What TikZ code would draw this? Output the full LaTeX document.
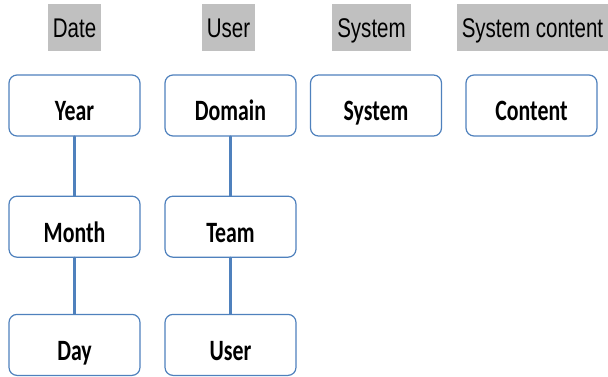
\documentclass[tikz,border=0pt]{standalone}
\usepackage{fontspec}
\usetikzlibrary{positioning}
\newfontfamily\headfont[FakeStretch=0.76]{Liberation Sans}
\newfontfamily\levelfont[FakeStretch=0.74]{Carlito}
\definecolor{levelblue}{RGB}{79,129,189}
\definecolor{headgray}{RGB}{192,192,192}
\begin{document}
\begin{tikzpicture}[x=1pt,y=-1pt, line join=round, line cap=round,
    level/.style={draw=levelblue, line width=1.2pt, rounded corners=8pt, fill=white,
        minimum width=131pt, minimum height=61pt, inner sep=0pt,
        text height=31pt, text depth=0pt,
        font=\levelfont\bfseries\fontsize{29.5}{32}\selectfont},
    head/.style={fill=headgray, minimum height=47pt, inner xsep=5pt, inner ysep=0pt,
        text height=19pt, text depth=0pt,
        font=\headfont\fontsize{27}{30}\selectfont},
    link/.style={draw=levelblue, line width=2.2pt}]
    \useasboundingbox (0,0) rectangle (608,377);
    \def\ya{105.5}
    % top row of levels
    \node[level] (year) at (74.5,\ya) {Year};
    \node[level] (domain) at (230.5,\ya) {Domain};
    \node[level] (system) at (376,\ya) {System};
    \node[level] (content) at (531.5,\ya) {Content};
    % lower levels
    \node[level, below=59pt of year] (month) {Month};
    \node[level, below=56pt of month] (day) {Day};
    \node[level, below=59pt of domain] (team) {Team};
    \node[level, below=56pt of team] (user) {User};
    % dimension names
    \node[head, above=23pt of year] (date-head) {Date};
    \node[head, above=23pt of domain, xshift=-2pt] (user-head) {User};
    \node[head, above=23pt of system, xshift=-4.5pt] (system-head) {System};
    \node[head, above=23pt of content, xshift=1pt] (content-head) {System content};
    % hierarchies
    \draw[link] (year) -- (month) -- (day);
    \draw[link] (domain) -- (team) -- (user);
\end{tikzpicture}
\end{document}
